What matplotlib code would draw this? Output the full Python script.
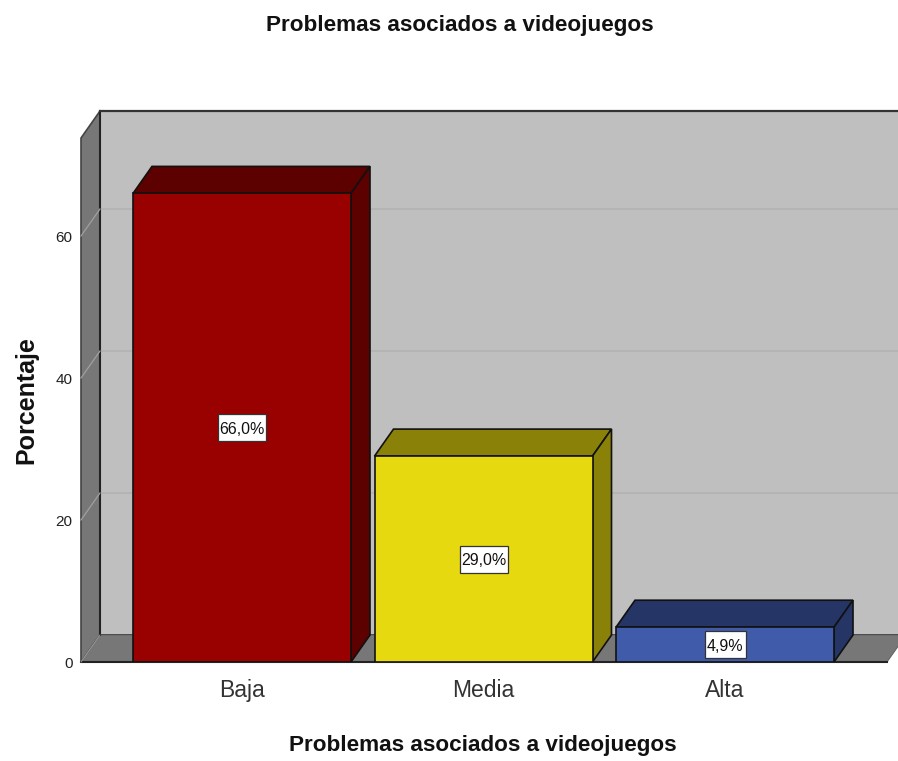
import matplotlib
matplotlib.use("Agg")
import matplotlib.pyplot as plt
from matplotlib.patches import Polygon, Rectangle

plt.rcParams["font.family"] = ["Liberation Sans", "DejaVu Sans"]

categories = ["Baja", "Media", "Alta"]
values = [66.0, 29.0, 4.9]
value_labels = ["66,0%", "29,0%", "4,9%"]
yticks = [0, 20, 40, 60]

front_colors = ["#990000", "#E6D90F", "#3F5BAA"]
side_colors = ["#5C0000", "#8A8208", "#253566"]
label_box_px = [48, 48, 41]

W, H = 898, 761
LEFT, RIGHT, BOTTOM, TOP = 81, 898, 662, 138
PX_PER_UNIT = 7.1
PX_PER_CAT = 241.5

# depth of the fake 3d box, in data units
DX = 19 / PX_PER_CAT
DY = 27 / PX_PER_UNIT
BAR_W = 218 / PX_PER_CAT
EDGE = "#111111"
WALL = "#BFBFBF"
DARK_WALL = "#777777"

fig = plt.figure(figsize=(W / 100, H / 100), dpi=100)
ax = fig.add_axes([LEFT / W, (H - BOTTOM) / H, (RIGHT - LEFT) / W, (BOTTOM - TOP) / H])
ax.set_xlim((LEFT - 242) / PX_PER_CAT, (RIGHT - 242) / PX_PER_CAT)
ax.set_ylim(0, (BOTTOM - TOP) / PX_PER_UNIT)
for s in ax.spines.values():
    s.set_visible(False)
ax.patch.set_visible(False)


def poly(pts, color, z, ec=EDGE, lw=1.2):
    ax.add_patch(Polygon(pts, closed=True, fc=color, ec=ec, lw=lw, zorder=z,
                         clip_on=False, joinstyle="miter"))


x0, x1 = ax.get_xlim()
ymax = ax.get_ylim()[1]

# back wall, left wall and floor
poly([(x0 + DX, DY), (x1 + 0.05, DY), (x1 + 0.05, ymax + DY), (x0 + DX, ymax + DY)], WALL, 1)
poly([(x0, 0), (x0 + DX, DY), (x0 + DX, ymax + DY), (x0, ymax)], DARK_WALL, 2, ec="#444444")
floor_end = x1 - 11 / PX_PER_CAT
poly([(x0, 0), (x0 + DX, DY), (floor_end + DX, DY), (floor_end, 0)], DARK_WALL, 2, ec="#666666", lw=0.8)
ax.plot([x0, floor_end], [0, 0], color="#222222", lw=1.5, zorder=3, clip_on=False)
ax.plot([x0 + DX, x0 + DX], [DY, ymax + DY], color="#222222", lw=1.5, zorder=3, clip_on=False)
ax.plot([x0 + DX, x1], [ymax + DY, ymax + DY], color="#333333", lw=1.6, zorder=3, clip_on=False)
ax.plot([x0, x0 + DX], [0, DY], color="#9A9A9A", lw=0.7, zorder=3, clip_on=False)

# gridlines on the walls
for t in yticks[1:]:
    ax.plot([x0 + DX, x1], [t + DY, t + DY], color="#B2B2B2", lw=1.2, zorder=1.5, clip_on=False)
    ax.plot([x0, x0 + DX], [t, t + DY], color="#A0A0A0", lw=0.9, zorder=3, clip_on=False)

# bars
for i, v in enumerate(values):
    l = i - BAR_W / 2
    r = i + BAR_W / 2
    ax.bar(i, v, width=BAR_W, color=front_colors[i], edgecolor=EDGE, linewidth=1.2, zorder=6)
    poly([(l, v), (l + DX, v + DY), (r + DX, v + DY), (r, v)], side_colors[i], 5)
    poly([(r, 0), (r + DX, DY), (r + DX, v + DY), (r, v)], side_colors[i], 5)

    # white value box
    bw = label_box_px[i] / PX_PER_CAT
    bh = 27 / PX_PER_UNIT
    ax.add_patch(Rectangle((i - bw / 2, v / 2 - bh / 2), bw, bh, fc="white", ec="#333333",
                           lw=0.9, zorder=7))
    ax.text(i, v / 2 - 1.5 / PX_PER_UNIT, value_labels[i], ha="center", va="center", fontsize=11.5,
            zorder=8, color="#111111")

ax.set_yticks(yticks)
ax.set_yticklabels([str(t) for t in yticks], fontsize=11, color="#222222")
ax.set_xticks(range(len(categories)))
ax.set_xticklabels(categories, fontsize=16.5, color="#333333")
ax.tick_params(axis="both", length=0)
ax.tick_params(axis="y", pad=6)
ax.tick_params(axis="x", pad=12)

fig.text(460 / W, 1 - 26 / H, "Problemas asociados a videojuegos", ha="center", va="center",
         fontsize=16.2, fontweight="bold", color="#111111")
fig.text(483 / W, 1 - 745 / H, "Problemas asociados a videojuegos", ha="center", va="center",
         fontsize=16.2, fontweight="bold", color="#111111")
fig.text(26 / W, 1 - 400 / H, "Porcentaje", ha="center", va="center", rotation=90,
         fontsize=18, fontweight="bold", color="#111111")

fig.savefig("out.png", dpi=100)
